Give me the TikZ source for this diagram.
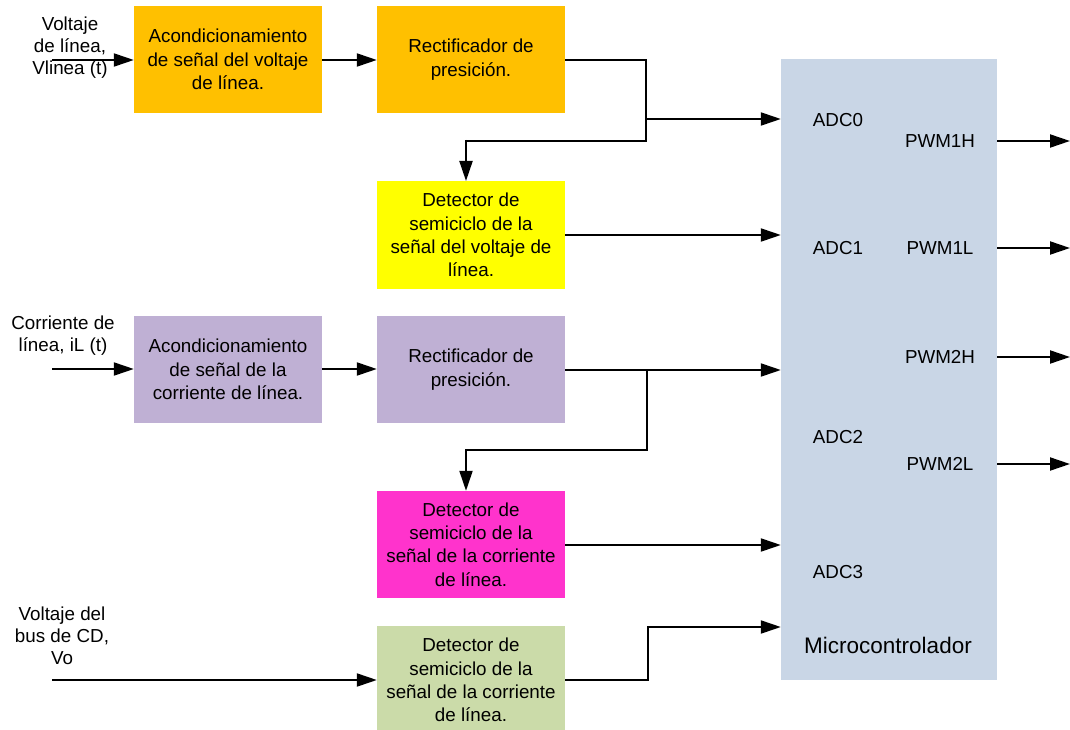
\documentclass[tikz,border=0pt]{standalone}
\usepackage{fontspec}
\setmainfont{Liberation Sans}
\usetikzlibrary{arrows.meta}
\definecolor{corange}{HTML}{FFC000}
\definecolor{cyellow}{HTML}{FFFF00}
\definecolor{cpurple}{HTML}{BFB0D4}
\definecolor{cmagenta}{HTML}{FF33CC}
\definecolor{cgreen}{HTML}{CBDBA9}
\definecolor{cblue}{HTML}{C9D6E6}
\tikzset{
  blk/.style={minimum width=188pt, minimum height=107pt, inner sep=0pt, align=center, font=\fontsize{18.8}{23.3}\selectfont},
  lbl/.style={inner sep=0pt, align=center, font=\fontsize{18.8}{22}\selectfont},
  conn/.style={line width=2pt, -{Triangle[length=20pt,width=13pt]}},
  wire/.style={line width=2pt}
}
\begin{document}
\begin{tikzpicture}[x=1pt,y=-1pt]
\useasboundingbox (0,0) rectangle (1070,730);
\begin{scope}
\clip (0,0) rectangle (1070,730);
% blocks
\node[blk, fill=corange] (A1) at (228,59.5) {Acondicionamiento\\de señal del voltaje\\de línea.};
\node[blk, fill=corange] (R1) at (471,59.5) {Rectificador de\\presición.};
\node[blk, fill=cyellow] (D1) at (471,235) {Detector de\\semiciclo de la\\señal del voltaje de\\línea.};
\node[blk, fill=cpurple] (A2) at (228,369.5) {Acondicionamiento\\de señal de la\\corriente de línea.};
\node[blk, fill=cpurple] (R2) at (471,369.5) {Rectificador de\\presición.};
\node[blk, fill=cmagenta] (D2) at (471,544.5) {Detector de\\semiciclo de la\\señal de la corriente\\de línea.};
\node[blk, fill=cgreen, minimum height=107pt, anchor=north] (D3) at (471,626) {};
\node[lbl, font=\fontsize{18.8}{23.3}\selectfont] (D3t) at (471,680) {Detector de\\semiciclo de la\\señal de la corriente\\de línea.};
\node[fill=cblue, minimum width=216pt, minimum height=621pt, inner sep=0pt] (M) at (889,369.5) {};
\end{scope}
% micro labels
\node[lbl] (adc0) at (838,120) {ADC0};
\node[lbl] (adc1) at (838,248) {ADC1};
\node[lbl] (adc2) at (838,437) {ADC2};
\node[lbl] (adc3) at (838,572) {ADC3};
\node[lbl] (p1h) at (940,141) {PWM1H};
\node[lbl] (p1l) at (940,248) {PWM1L};
\node[lbl] (p2h) at (940,357) {PWM2H};
\node[lbl] (p2l) at (940,464) {PWM2L};
\node[lbl, font=\fontsize{22.5}{26}\selectfont] (mc) at (888,645) {Microcontrolador};
% input labels
\node[lbl] (in1) at (70,48) {Voltaje\\de línea,\\Vlinea (t)};
\node[lbl] (in2) at (63,336) {Corriente de\\línea, iL (t)};
\node[lbl] (in3) at (62,636) {Voltaje del\\bus de CD,\\Vo};
% input coordinates
\coordinate (s1) at (52,60);
\coordinate (s2) at (52,369);
\coordinate (s3) at (52,680);
\draw[conn] (s1) -- (s1 -| A1.west);
\draw[conn] (s2) -- (s2 -| A2.west);
\draw[conn] (s3) -- (s3 -| D3.west);
% chain
\draw[conn] (A1.east |- 0,60) -- (R1.west |- 0,60);
\draw[conn] (A2.east |- 0,369) -- (R2.west |- 0,369);
% R1 outputs
\coordinate (j1) at (646,119);
\draw[wire] (R1.east |- 0,60) -- (646,60) -- (646,141) -- (466,141);
\draw[conn] (466,140) -- (466,181);
\draw[conn] (j1) -- (j1 -| M.west);
% D1
\draw[conn] (D1.east |- 0,235) -- (M.west |- 0,235);
% R2 outputs
\coordinate (j2) at (647,370);
\draw[conn] (R2.east |- 0,370) -- (M.west |- 0,370);
\draw[wire] (j2) -- (647,450) -- (466,450);
\draw[conn] (466,449) -- (D2.north -| 466,0);
% D2
\draw[conn] (D2.east |- 0,545) -- (M.west |- 0,545);
% D3
\draw[wire] (D3.east |- 0,680) -- (648,680) -- (648,626);
\draw[conn] (648,627) -- (M.west |- 0,627);
% outputs
\coordinate (o1) at (1070,141);
\coordinate (o2) at (1070,248);
\coordinate (o3) at (1070,357);
\coordinate (o4) at (1070,464);
\draw[conn] (M.east |- o1) -- (o1);
\draw[conn] (M.east |- o2) -- (o2);
\draw[conn] (M.east |- o3) -- (o3);
\draw[conn] (M.east |- o4) -- (o4);
\end{tikzpicture}
\end{document}
